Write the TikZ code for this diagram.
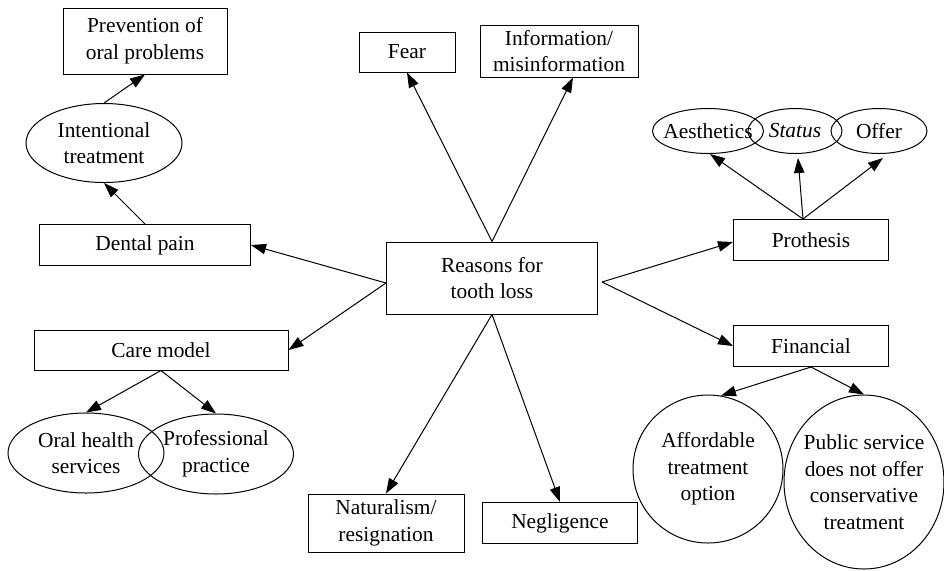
\documentclass[tikz,border=0pt]{standalone}
\usepackage{fontspec}
\setmainfont{Liberation Serif}
\usetikzlibrary{shapes.geometric,arrows.meta}
\tikzset{
  every node/.style={font=\fontsize{10.7}{13.3}\selectfont, align=center},
  box/.style={draw, rectangle, inner sep=0pt, line width=0.5pt},
  oval/.style={draw, ellipse, inner xsep=-6pt, inner ysep=0pt, line width=0.5pt},
  arr/.style={line width=0.5pt, -{Triangle[length=7.5pt,width=5.2pt]}}
}
\begin{document}
\begin{tikzpicture}[x=0.5pt,y=-0.5pt]
\useasboundingbox (0,0) rectangle (944,570);

% central concept
\node[box, minimum width=105.5pt, minimum height=36pt] (reasons) at (492,278) {Reasons for\\tooth loss};

% left branch
\node[box, minimum width=82pt, minimum height=33pt] (prev) at (145,41) {Prevention of\\oral problems};
\node[oval, minimum width=78pt, minimum height=39.5pt] (intent) at (104,143) {Intentional\\treatment};
\node[box, minimum width=105.5pt, minimum height=20.5pt] (dental) at (145,245) {Dental pain};
\node[box, minimum width=127pt, minimum height=20pt] (care) at (161,350) {Care model};
\node[oval, minimum width=78pt, minimum height=40pt] (oral) at (86,453) {Oral health\\services};
\node[oval, minimum width=77.5pt, minimum height=40pt] (prof) at (216,454) {Professional\\practice};

% top and bottom
\node[box, minimum width=48pt, minimum height=20pt] (fear) at (407,52) {Fear};
\node[box, minimum width=79pt, minimum height=26pt] (info) at (559,51) {Information/\\misinformation};
\node[box, minimum width=78pt, minimum height=29pt] (natur) at (386,523) {Naturalism/\\resignation};
\node[box, minimum width=77.5pt, minimum height=20.5pt] (negl) at (560,523) {Negligence};

% right branch
\node[box, minimum width=77.5pt, minimum height=20.5pt] (proth) at (811,240) {Prothesis};
\node[box, minimum width=77.5pt, minimum height=20.5pt] (fin) at (811,346) {Financial};
\node[oval, minimum width=55.5pt, minimum height=22.5pt] (aest) at (708,131) {Aesthetics};
\node[oval, minimum width=47pt, minimum height=22.5pt] (status) at (795,131) {\textit{Status}};
\node[oval, minimum width=48pt, minimum height=22.5pt] (offer) at (879,131) {Offer};
\node[oval, minimum width=75pt, minimum height=74pt] (afford) at (708,469) {Affordable\\treatment\\option};
\node[oval, minimum width=80pt, minimum height=87pt] (public) at (864,482) {Public service\\does not offer\\conservative\\treatment};

% connectors
\draw[arr] (dental.north) -- (intent.south);
\draw[arr] (intent.north) -- (prev.south);
\draw[arr] ([yshift=-2.5pt]reasons.west) -- (dental.east);
\draw[arr] ([yshift=-2.5pt]reasons.west) -- (care.east);
\draw[arr] (care.south) -- (oral.north);
\draw[arr] (care.south) -- (prof.north);
\draw[arr] (reasons.north) -- (fear.south);
\draw[arr] (reasons.north) -- ([xshift=7pt]info.south);
\draw[arr] (reasons.south) -- (natur.north);
\draw[arr] (reasons.south) -- (negl.north);
\draw[arr] ([xshift=2pt,yshift=-2pt]reasons.east) -- ([yshift=-1pt]proth.west);
\draw[arr] ([xshift=2pt,yshift=-2pt]reasons.east) -- (fin.west);
\draw[arr] ([xshift=-4pt]proth.north) -- ([xshift=1pt]aest.south);
\draw[arr] ([xshift=-4pt]proth.north) -- ([xshift=1.5pt,yshift=-2pt]status.south);
\draw[arr] ([xshift=-4pt]proth.north) -- ([xshift=2pt,yshift=-2pt]offer.south);
\draw[arr] (fin.south) -- (afford.80);
\draw[arr] (fin.south) -- (public.north);
\end{tikzpicture}
\end{document}
